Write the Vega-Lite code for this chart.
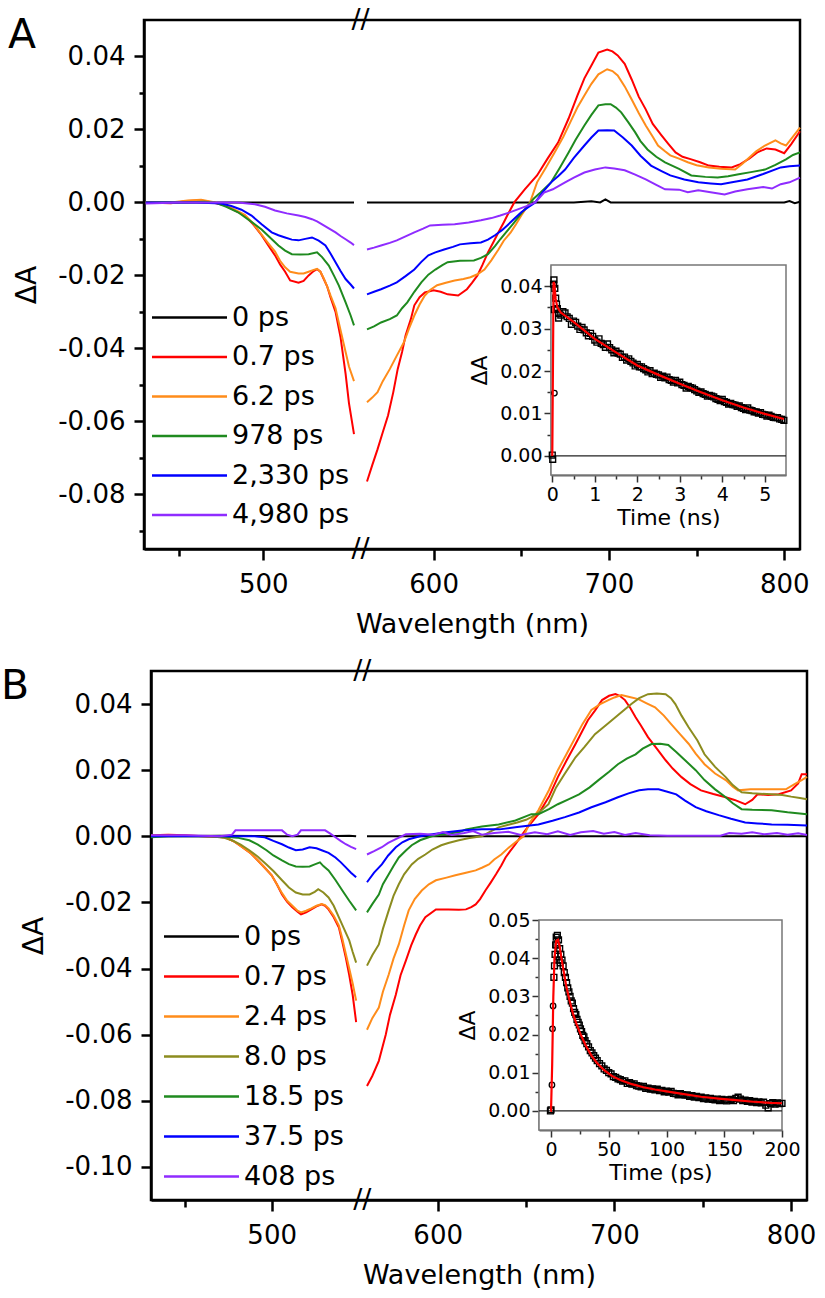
{
"$schema": "https://vega.github.io/schema/vega-lite/v6.json",
"background": "white",
"padding": {"left": 1, "top": 4, "right": 5, "bottom": 5},
"config": {
  "view": {"stroke": "black", "strokeWidth": 2.5},
  "font": "DejaVu Sans",
  "axis": {"grid": false, "domainColor": "black", "domainWidth": 2.5, "tickColor": "black", "tickWidth": 2.5, "labelColor": "black", "titleColor": "black", "labelFont": "DejaVu Sans", "titleFont": "DejaVu Sans", "titleFontWeight": "normal", "labelFlush": false, "labelOverlap": false, "labelBound": false, "zindex": 1},
  "legend": {"symbolType": "M-1,0H9", "symbolSize": 225, "symbolStrokeWidth": 2.5, "labelFont": "DejaVu Sans", "labelFontSize": 27, "labelColor": "black", "labelOffset": 59, "rowPadding": 11.5, "padding": 0, "labelLimit": 0},
  "title": {"font": "DejaVu Sans", "fontSize": 41, "fontWeight": "normal", "color": "black", "anchor": "start", "frame": "group", "align": "left", "baseline": "top", "offset": 0}
},
"datasets": {
"A_main": [
{"series":"0 ps","seg":"L","wl":430,"dA":0},{"series":"0 ps","seg":"L","wl":470,"dA":0},{"series":"0 ps","seg":"L","wl":510,"dA":0},{"series":"0 ps","seg":"L","wl":554,"dA":0},
{"series":"0 ps","seg":"R","wl":562,"dA":0},{"series":"0 ps","seg":"R","wl":600,"dA":0},{"series":"0 ps","seg":"R","wl":640,"dA":0},{"series":"0 ps","seg":"R","wl":680,"dA":0},{"series":"0 ps","seg":"R","wl":690,"dA":0.0003},{"series":"0 ps","seg":"R","wl":695,"dA":0},{"series":"0 ps","seg":"R","wl":698,"dA":0.0008},{"series":"0 ps","seg":"R","wl":701,"dA":0},{"series":"0 ps","seg":"R","wl":740,"dA":0},{"series":"0 ps","seg":"R","wl":780,"dA":0},{"series":"0 ps","seg":"R","wl":800,"dA":0},{"series":"0 ps","seg":"R","wl":803,"dA":0.0004},{"series":"0 ps","seg":"R","wl":806,"dA":-0.0002},{"series":"0 ps","seg":"R","wl":809,"dA":0.0002},
{"series":"0.7 ps","seg":"L","wl":430,"dA":0},{"series":"0.7 ps","seg":"L","wl":445,"dA":-0.0002},{"series":"0.7 ps","seg":"L","wl":455,"dA":0.0004},{"series":"0.7 ps","seg":"L","wl":463,"dA":0.0005},{"series":"0.7 ps","seg":"L","wl":470,"dA":0},{"series":"0.7 ps","seg":"L","wl":477,"dA":-0.0008},{"series":"0.7 ps","seg":"L","wl":483,"dA":-0.0022},{"series":"0.7 ps","seg":"L","wl":489,"dA":-0.0036},{"series":"0.7 ps","seg":"L","wl":494,"dA":-0.006},{"series":"0.7 ps","seg":"L","wl":499,"dA":-0.009},{"series":"0.7 ps","seg":"L","wl":503,"dA":-0.0118},{"series":"0.7 ps","seg":"L","wl":507,"dA":-0.0145},{"series":"0.7 ps","seg":"L","wl":510,"dA":-0.017},{"series":"0.7 ps","seg":"L","wl":513,"dA":-0.019},{"series":"0.7 ps","seg":"L","wl":516,"dA":-0.0214},{"series":"0.7 ps","seg":"L","wl":521,"dA":-0.022},{"series":"0.7 ps","seg":"L","wl":524,"dA":-0.0215},{"series":"0.7 ps","seg":"L","wl":527,"dA":-0.02},{"series":"0.7 ps","seg":"L","wl":530,"dA":-0.0188},{"series":"0.7 ps","seg":"L","wl":532,"dA":-0.0183},{"series":"0.7 ps","seg":"L","wl":534,"dA":-0.019},{"series":"0.7 ps","seg":"L","wl":536,"dA":-0.021},{"series":"0.7 ps","seg":"L","wl":538,"dA":-0.023},{"series":"0.7 ps","seg":"L","wl":540,"dA":-0.026},{"series":"0.7 ps","seg":"L","wl":543,"dA":-0.03},{"series":"0.7 ps","seg":"L","wl":546,"dA":-0.037},{"series":"0.7 ps","seg":"L","wl":549,"dA":-0.047},{"series":"0.7 ps","seg":"L","wl":551,"dA":-0.055},{"series":"0.7 ps","seg":"L","wl":554,"dA":-0.0635},
{"series":"0.7 ps","seg":"R","wl":562,"dA":-0.0765},{"series":"0.7 ps","seg":"R","wl":565,"dA":-0.072},{"series":"0.7 ps","seg":"R","wl":568,"dA":-0.0677},{"series":"0.7 ps","seg":"R","wl":571,"dA":-0.063},{"series":"0.7 ps","seg":"R","wl":574,"dA":-0.0584},{"series":"0.7 ps","seg":"R","wl":577,"dA":-0.052},{"series":"0.7 ps","seg":"R","wl":579.5,"dA":-0.0457},{"series":"0.7 ps","seg":"R","wl":582,"dA":-0.041},{"series":"0.7 ps","seg":"R","wl":584,"dA":-0.0365},{"series":"0.7 ps","seg":"R","wl":587,"dA":-0.032},{"series":"0.7 ps","seg":"R","wl":589,"dA":-0.0282},{"series":"0.7 ps","seg":"R","wl":592,"dA":-0.026},{"series":"0.7 ps","seg":"R","wl":595,"dA":-0.0247},{"series":"0.7 ps","seg":"R","wl":600,"dA":-0.0241},{"series":"0.7 ps","seg":"R","wl":604,"dA":-0.0245},{"series":"0.7 ps","seg":"R","wl":608,"dA":-0.0252},{"series":"0.7 ps","seg":"R","wl":614,"dA":-0.0255},{"series":"0.7 ps","seg":"R","wl":619,"dA":-0.0238},{"series":"0.7 ps","seg":"R","wl":622,"dA":-0.022},{"series":"0.7 ps","seg":"R","wl":625,"dA":-0.02},{"series":"0.7 ps","seg":"R","wl":628,"dA":-0.017},{"series":"0.7 ps","seg":"R","wl":631,"dA":-0.0137},{"series":"0.7 ps","seg":"R","wl":634,"dA":-0.011},{"series":"0.7 ps","seg":"R","wl":637,"dA":-0.0082},{"series":"0.7 ps","seg":"R","wl":640,"dA":-0.0055},{"series":"0.7 ps","seg":"R","wl":642,"dA":-0.0036},{"series":"0.7 ps","seg":"R","wl":646,"dA":0},{"series":"0.7 ps","seg":"R","wl":652,"dA":0.0036},{"series":"0.7 ps","seg":"R","wl":659,"dA":0.0074},{"series":"0.7 ps","seg":"R","wl":665,"dA":0.012},{"series":"0.7 ps","seg":"R","wl":671,"dA":0.0164},{"series":"0.7 ps","seg":"R","wl":677,"dA":0.023},{"series":"0.7 ps","seg":"R","wl":682,"dA":0.0293},{"series":"0.7 ps","seg":"R","wl":686,"dA":0.034},{"series":"0.7 ps","seg":"R","wl":690,"dA":0.0375},{"series":"0.7 ps","seg":"R","wl":694,"dA":0.0411},{"series":"0.7 ps","seg":"R","wl":699,"dA":0.0419},{"series":"0.7 ps","seg":"R","wl":702,"dA":0.0414},{"series":"0.7 ps","seg":"R","wl":705,"dA":0.0403},{"series":"0.7 ps","seg":"R","wl":709,"dA":0.038},{"series":"0.7 ps","seg":"R","wl":713,"dA":0.0337},{"series":"0.7 ps","seg":"R","wl":717,"dA":0.029},{"series":"0.7 ps","seg":"R","wl":721,"dA":0.0255},{"series":"0.7 ps","seg":"R","wl":725,"dA":0.0215},{"series":"0.7 ps","seg":"R","wl":730,"dA":0.0184},{"series":"0.7 ps","seg":"R","wl":734,"dA":0.016},{"series":"0.7 ps","seg":"R","wl":738,"dA":0.0137},{"series":"0.7 ps","seg":"R","wl":742,"dA":0.0125},{"series":"0.7 ps","seg":"R","wl":747,"dA":0.0118},{"series":"0.7 ps","seg":"R","wl":752,"dA":0.011},{"series":"0.7 ps","seg":"R","wl":757,"dA":0.0101},{"series":"0.7 ps","seg":"R","wl":763,"dA":0.0098},{"series":"0.7 ps","seg":"R","wl":770,"dA":0.0096},{"series":"0.7 ps","seg":"R","wl":775,"dA":0.0105},{"series":"0.7 ps","seg":"R","wl":780,"dA":0.012},{"series":"0.7 ps","seg":"R","wl":785,"dA":0.0138},{"series":"0.7 ps","seg":"R","wl":790,"dA":0.0148},{"series":"0.7 ps","seg":"R","wl":795,"dA":0.0145},{"series":"0.7 ps","seg":"R","wl":800,"dA":0.0135},{"series":"0.7 ps","seg":"R","wl":804,"dA":0.016},{"series":"0.7 ps","seg":"R","wl":809,"dA":0.0195},
{"series":"6.2 ps","seg":"L","wl":430,"dA":0},{"series":"6.2 ps","seg":"L","wl":445,"dA":0},{"series":"6.2 ps","seg":"L","wl":455,"dA":0.0005},{"series":"6.2 ps","seg":"L","wl":463,"dA":0.0007},{"series":"6.2 ps","seg":"L","wl":470,"dA":0.0001},{"series":"6.2 ps","seg":"L","wl":477,"dA":-0.0006},{"series":"6.2 ps","seg":"L","wl":483,"dA":-0.002},{"series":"6.2 ps","seg":"L","wl":489,"dA":-0.0034},{"series":"6.2 ps","seg":"L","wl":494,"dA":-0.0058},{"series":"6.2 ps","seg":"L","wl":499,"dA":-0.0088},{"series":"6.2 ps","seg":"L","wl":503,"dA":-0.0112},{"series":"6.2 ps","seg":"L","wl":507,"dA":-0.0135},{"series":"6.2 ps","seg":"L","wl":510,"dA":-0.016},{"series":"6.2 ps","seg":"L","wl":513,"dA":-0.0178},{"series":"6.2 ps","seg":"L","wl":516,"dA":-0.019},{"series":"6.2 ps","seg":"L","wl":521,"dA":-0.0195},{"series":"6.2 ps","seg":"L","wl":524,"dA":-0.0195},{"series":"6.2 ps","seg":"L","wl":527,"dA":-0.019},{"series":"6.2 ps","seg":"L","wl":530,"dA":-0.0185},{"series":"6.2 ps","seg":"L","wl":532,"dA":-0.0182},{"series":"6.2 ps","seg":"L","wl":534,"dA":-0.019},{"series":"6.2 ps","seg":"L","wl":536,"dA":-0.0208},{"series":"6.2 ps","seg":"L","wl":538,"dA":-0.023},{"series":"6.2 ps","seg":"L","wl":540,"dA":-0.0255},{"series":"6.2 ps","seg":"L","wl":543,"dA":-0.029},{"series":"6.2 ps","seg":"L","wl":546,"dA":-0.035},{"series":"6.2 ps","seg":"L","wl":549,"dA":-0.041},{"series":"6.2 ps","seg":"L","wl":551,"dA":-0.045},{"series":"6.2 ps","seg":"L","wl":554,"dA":-0.049},
{"series":"6.2 ps","seg":"R","wl":562,"dA":-0.0548},{"series":"6.2 ps","seg":"R","wl":565,"dA":-0.0535},{"series":"6.2 ps","seg":"R","wl":568,"dA":-0.052},{"series":"6.2 ps","seg":"R","wl":571,"dA":-0.049},{"series":"6.2 ps","seg":"R","wl":575,"dA":-0.0457},{"series":"6.2 ps","seg":"R","wl":579,"dA":-0.042},{"series":"6.2 ps","seg":"R","wl":583,"dA":-0.0384},{"series":"6.2 ps","seg":"R","wl":586,"dA":-0.0345},{"series":"6.2 ps","seg":"R","wl":589,"dA":-0.031},{"series":"6.2 ps","seg":"R","wl":592,"dA":-0.028},{"series":"6.2 ps","seg":"R","wl":595,"dA":-0.0255},{"series":"6.2 ps","seg":"R","wl":598,"dA":-0.024},{"series":"6.2 ps","seg":"R","wl":602,"dA":-0.0227},{"series":"6.2 ps","seg":"R","wl":607,"dA":-0.022},{"series":"6.2 ps","seg":"R","wl":612,"dA":-0.0214},{"series":"6.2 ps","seg":"R","wl":617,"dA":-0.021},{"series":"6.2 ps","seg":"R","wl":621,"dA":-0.0205},{"series":"6.2 ps","seg":"R","wl":625,"dA":-0.0197},{"series":"6.2 ps","seg":"R","wl":629,"dA":-0.0184},{"series":"6.2 ps","seg":"R","wl":633,"dA":-0.0158},{"series":"6.2 ps","seg":"R","wl":637,"dA":-0.0129},{"series":"6.2 ps","seg":"R","wl":640,"dA":-0.0105},{"series":"6.2 ps","seg":"R","wl":644,"dA":-0.0082},{"series":"6.2 ps","seg":"R","wl":647,"dA":-0.006},{"series":"6.2 ps","seg":"R","wl":650,"dA":-0.0036},{"series":"6.2 ps","seg":"R","wl":655,"dA":0},{"series":"6.2 ps","seg":"R","wl":659,"dA":0.0055},{"series":"6.2 ps","seg":"R","wl":664,"dA":0.0095},{"series":"6.2 ps","seg":"R","wl":669,"dA":0.0137},{"series":"6.2 ps","seg":"R","wl":674,"dA":0.018},{"series":"6.2 ps","seg":"R","wl":678,"dA":0.022},{"series":"6.2 ps","seg":"R","wl":682,"dA":0.026},{"series":"6.2 ps","seg":"R","wl":686,"dA":0.0293},{"series":"6.2 ps","seg":"R","wl":690,"dA":0.0325},{"series":"6.2 ps","seg":"R","wl":694,"dA":0.0351},{"series":"6.2 ps","seg":"R","wl":699,"dA":0.0365},{"series":"6.2 ps","seg":"R","wl":702,"dA":0.036},{"series":"6.2 ps","seg":"R","wl":705,"dA":0.0348},{"series":"6.2 ps","seg":"R","wl":709,"dA":0.0318},{"series":"6.2 ps","seg":"R","wl":713,"dA":0.0282},{"series":"6.2 ps","seg":"R","wl":717,"dA":0.0245},{"series":"6.2 ps","seg":"R","wl":721,"dA":0.0211},{"series":"6.2 ps","seg":"R","wl":725,"dA":0.018},{"series":"6.2 ps","seg":"R","wl":728,"dA":0.0156},{"series":"6.2 ps","seg":"R","wl":732,"dA":0.014},{"series":"6.2 ps","seg":"R","wl":735,"dA":0.0129},{"series":"6.2 ps","seg":"R","wl":740,"dA":0.012},{"series":"6.2 ps","seg":"R","wl":745,"dA":0.011},{"series":"6.2 ps","seg":"R","wl":750,"dA":0.0102},{"series":"6.2 ps","seg":"R","wl":757,"dA":0.0096},{"series":"6.2 ps","seg":"R","wl":764,"dA":0.0092},{"series":"6.2 ps","seg":"R","wl":772,"dA":0.009},{"series":"6.2 ps","seg":"R","wl":776,"dA":0.0105},{"series":"6.2 ps","seg":"R","wl":779,"dA":0.0118},{"series":"6.2 ps","seg":"R","wl":784,"dA":0.014},{"series":"6.2 ps","seg":"R","wl":789,"dA":0.0156},{"series":"6.2 ps","seg":"R","wl":795,"dA":0.017},{"series":"6.2 ps","seg":"R","wl":798,"dA":0.0162},{"series":"6.2 ps","seg":"R","wl":801,"dA":0.0156},{"series":"6.2 ps","seg":"R","wl":805,"dA":0.018},{"series":"6.2 ps","seg":"R","wl":809,"dA":0.0205},
{"series":"978 ps","seg":"L","wl":430,"dA":0},{"series":"978 ps","seg":"L","wl":450,"dA":0},{"series":"978 ps","seg":"L","wl":465,"dA":0.0002},{"series":"978 ps","seg":"L","wl":471,"dA":0},{"series":"978 ps","seg":"L","wl":478,"dA":-0.0012},{"series":"978 ps","seg":"L","wl":485,"dA":-0.0027},{"series":"978 ps","seg":"L","wl":492,"dA":-0.005},{"series":"978 ps","seg":"L","wl":499,"dA":-0.0074},{"series":"978 ps","seg":"L","wl":504,"dA":-0.0096},{"series":"978 ps","seg":"L","wl":509,"dA":-0.0118},{"series":"978 ps","seg":"L","wl":513,"dA":-0.0132},{"series":"978 ps","seg":"L","wl":517,"dA":-0.0142},{"series":"978 ps","seg":"L","wl":522,"dA":-0.0143},{"series":"978 ps","seg":"L","wl":527,"dA":-0.0142},{"series":"978 ps","seg":"L","wl":532,"dA":-0.0137},{"series":"978 ps","seg":"L","wl":535,"dA":-0.015},{"series":"978 ps","seg":"L","wl":539,"dA":-0.0173},{"series":"978 ps","seg":"L","wl":542,"dA":-0.02},{"series":"978 ps","seg":"L","wl":545,"dA":-0.0228},{"series":"978 ps","seg":"L","wl":549,"dA":-0.0274},{"series":"978 ps","seg":"L","wl":552,"dA":-0.031},{"series":"978 ps","seg":"L","wl":554,"dA":-0.0337},
{"series":"978 ps","seg":"R","wl":562,"dA":-0.0348},{"series":"978 ps","seg":"R","wl":566,"dA":-0.034},{"series":"978 ps","seg":"R","wl":570,"dA":-0.0329},{"series":"978 ps","seg":"R","wl":575,"dA":-0.032},{"series":"978 ps","seg":"R","wl":579,"dA":-0.031},{"series":"978 ps","seg":"R","wl":582,"dA":-0.029},{"series":"978 ps","seg":"R","wl":585,"dA":-0.0274},{"series":"978 ps","seg":"R","wl":589,"dA":-0.0245},{"series":"978 ps","seg":"R","wl":593,"dA":-0.0219},{"series":"978 ps","seg":"R","wl":597,"dA":-0.0198},{"series":"978 ps","seg":"R","wl":601,"dA":-0.0184},{"series":"978 ps","seg":"R","wl":605,"dA":-0.0172},{"series":"978 ps","seg":"R","wl":608,"dA":-0.0164},{"series":"978 ps","seg":"R","wl":615,"dA":-0.016},{"series":"978 ps","seg":"R","wl":623,"dA":-0.0159},{"series":"978 ps","seg":"R","wl":627,"dA":-0.0152},{"series":"978 ps","seg":"R","wl":631,"dA":-0.0142},{"series":"978 ps","seg":"R","wl":635,"dA":-0.012},{"series":"978 ps","seg":"R","wl":638,"dA":-0.0101},{"series":"978 ps","seg":"R","wl":642,"dA":-0.0078},{"series":"978 ps","seg":"R","wl":646,"dA":-0.0055},{"series":"978 ps","seg":"R","wl":650,"dA":-0.003},{"series":"978 ps","seg":"R","wl":654,"dA":-0.0008},{"series":"978 ps","seg":"R","wl":657,"dA":0.001},{"series":"978 ps","seg":"R","wl":661,"dA":0.0027},{"series":"978 ps","seg":"R","wl":667,"dA":0.0055},{"series":"978 ps","seg":"R","wl":672,"dA":0.0095},{"series":"978 ps","seg":"R","wl":677,"dA":0.0137},{"series":"978 ps","seg":"R","wl":681,"dA":0.0172},{"series":"978 ps","seg":"R","wl":686,"dA":0.0211},{"series":"978 ps","seg":"R","wl":690,"dA":0.024},{"series":"978 ps","seg":"R","wl":694,"dA":0.0266},{"series":"978 ps","seg":"R","wl":698,"dA":0.0269},{"series":"978 ps","seg":"R","wl":701,"dA":0.0269},{"series":"978 ps","seg":"R","wl":704,"dA":0.026},{"series":"978 ps","seg":"R","wl":707,"dA":0.0247},{"series":"978 ps","seg":"R","wl":711,"dA":0.022},{"series":"978 ps","seg":"R","wl":715,"dA":0.0192},{"series":"978 ps","seg":"R","wl":718,"dA":0.0168},{"series":"978 ps","seg":"R","wl":722,"dA":0.0145},{"series":"978 ps","seg":"R","wl":727,"dA":0.0125},{"series":"978 ps","seg":"R","wl":732,"dA":0.011},{"series":"978 ps","seg":"R","wl":740,"dA":0.0092},{"series":"978 ps","seg":"R","wl":747,"dA":0.0074},{"series":"978 ps","seg":"R","wl":755,"dA":0.007},{"series":"978 ps","seg":"R","wl":762,"dA":0.0068},{"series":"978 ps","seg":"R","wl":768,"dA":0.0072},{"series":"978 ps","seg":"R","wl":774,"dA":0.0077},{"series":"978 ps","seg":"R","wl":781,"dA":0.0083},{"series":"978 ps","seg":"R","wl":789,"dA":0.009},{"series":"978 ps","seg":"R","wl":795,"dA":0.0103},{"series":"978 ps","seg":"R","wl":801,"dA":0.0118},{"series":"978 ps","seg":"R","wl":805,"dA":0.013},{"series":"978 ps","seg":"R","wl":809,"dA":0.0137},
{"series":"2,330 ps","seg":"L","wl":430,"dA":0},{"series":"2,330 ps","seg":"L","wl":460,"dA":0},{"series":"2,330 ps","seg":"L","wl":475,"dA":-0.0003},{"series":"2,330 ps","seg":"L","wl":481,"dA":-0.001},{"series":"2,330 ps","seg":"L","wl":487,"dA":-0.002},{"series":"2,330 ps","seg":"L","wl":493,"dA":-0.0036},{"series":"2,330 ps","seg":"L","wl":499,"dA":-0.006},{"series":"2,330 ps","seg":"L","wl":505,"dA":-0.0082},{"series":"2,330 ps","seg":"L","wl":509,"dA":-0.009},{"series":"2,330 ps","seg":"L","wl":513,"dA":-0.0096},{"series":"2,330 ps","seg":"L","wl":517,"dA":-0.0102},{"series":"2,330 ps","seg":"L","wl":521,"dA":-0.0104},{"series":"2,330 ps","seg":"L","wl":525,"dA":-0.01},{"series":"2,330 ps","seg":"L","wl":529,"dA":-0.0096},{"series":"2,330 ps","seg":"L","wl":533,"dA":-0.0105},{"series":"2,330 ps","seg":"L","wl":537,"dA":-0.0118},{"series":"2,330 ps","seg":"L","wl":540,"dA":-0.014},{"series":"2,330 ps","seg":"L","wl":543,"dA":-0.0164},{"series":"2,330 ps","seg":"L","wl":546,"dA":-0.0188},{"series":"2,330 ps","seg":"L","wl":549,"dA":-0.021},{"series":"2,330 ps","seg":"L","wl":552,"dA":-0.0225},{"series":"2,330 ps","seg":"L","wl":554,"dA":-0.0236},
{"series":"2,330 ps","seg":"R","wl":562,"dA":-0.0252},{"series":"2,330 ps","seg":"R","wl":566,"dA":-0.0245},{"series":"2,330 ps","seg":"R","wl":570,"dA":-0.0238},{"series":"2,330 ps","seg":"R","wl":575,"dA":-0.0228},{"series":"2,330 ps","seg":"R","wl":579,"dA":-0.0219},{"series":"2,330 ps","seg":"R","wl":584,"dA":-0.0202},{"series":"2,330 ps","seg":"R","wl":589,"dA":-0.0184},{"series":"2,330 ps","seg":"R","wl":593,"dA":-0.0163},{"series":"2,330 ps","seg":"R","wl":597,"dA":-0.0145},{"series":"2,330 ps","seg":"R","wl":601,"dA":-0.0137},{"series":"2,330 ps","seg":"R","wl":606,"dA":-0.0129},{"series":"2,330 ps","seg":"R","wl":611,"dA":-0.0122},{"series":"2,330 ps","seg":"R","wl":615,"dA":-0.0115},{"series":"2,330 ps","seg":"R","wl":621,"dA":-0.0112},{"series":"2,330 ps","seg":"R","wl":627,"dA":-0.011},{"series":"2,330 ps","seg":"R","wl":631,"dA":-0.0102},{"series":"2,330 ps","seg":"R","wl":635,"dA":-0.009},{"series":"2,330 ps","seg":"R","wl":639,"dA":-0.0076},{"series":"2,330 ps","seg":"R","wl":642,"dA":-0.0063},{"series":"2,330 ps","seg":"R","wl":646,"dA":-0.0045},{"series":"2,330 ps","seg":"R","wl":650,"dA":-0.0027},{"series":"2,330 ps","seg":"R","wl":654,"dA":-0.0013},{"series":"2,330 ps","seg":"R","wl":658,"dA":0},{"series":"2,330 ps","seg":"R","wl":662,"dA":0.0027},{"series":"2,330 ps","seg":"R","wl":667,"dA":0.0055},{"series":"2,330 ps","seg":"R","wl":671,"dA":0.0072},{"series":"2,330 ps","seg":"R","wl":675,"dA":0.009},{"series":"2,330 ps","seg":"R","wl":680,"dA":0.0122},{"series":"2,330 ps","seg":"R","wl":686,"dA":0.0156},{"series":"2,330 ps","seg":"R","wl":690,"dA":0.0178},{"series":"2,330 ps","seg":"R","wl":694,"dA":0.0197},{"series":"2,330 ps","seg":"R","wl":699,"dA":0.0198},{"series":"2,330 ps","seg":"R","wl":703,"dA":0.0197},{"series":"2,330 ps","seg":"R","wl":708,"dA":0.0178},{"series":"2,330 ps","seg":"R","wl":713,"dA":0.0156},{"series":"2,330 ps","seg":"R","wl":718,"dA":0.0128},{"series":"2,330 ps","seg":"R","wl":724,"dA":0.0101},{"series":"2,330 ps","seg":"R","wl":730,"dA":0.0086},{"series":"2,330 ps","seg":"R","wl":735,"dA":0.0074},{"series":"2,330 ps","seg":"R","wl":743,"dA":0.0063},{"series":"2,330 ps","seg":"R","wl":751,"dA":0.0055},{"series":"2,330 ps","seg":"R","wl":758,"dA":0.0052},{"series":"2,330 ps","seg":"R","wl":764,"dA":0.005},{"series":"2,330 ps","seg":"R","wl":771,"dA":0.0056},{"series":"2,330 ps","seg":"R","wl":779,"dA":0.0063},{"series":"2,330 ps","seg":"R","wl":788,"dA":0.0078},{"series":"2,330 ps","seg":"R","wl":798,"dA":0.0096},{"series":"2,330 ps","seg":"R","wl":803,"dA":0.0099},{"series":"2,330 ps","seg":"R","wl":809,"dA":0.0101},
{"series":"4,980 ps","seg":"L","wl":430,"dA":-0.0003},{"series":"4,980 ps","seg":"L","wl":450,"dA":0},{"series":"4,980 ps","seg":"L","wl":470,"dA":0},{"series":"4,980 ps","seg":"L","wl":485,"dA":0},{"series":"4,980 ps","seg":"L","wl":495,"dA":-0.0005},{"series":"4,980 ps","seg":"L","wl":501,"dA":-0.0012},{"series":"4,980 ps","seg":"L","wl":507,"dA":-0.0022},{"series":"4,980 ps","seg":"L","wl":514,"dA":-0.003},{"series":"4,980 ps","seg":"L","wl":521,"dA":-0.0036},{"series":"4,980 ps","seg":"L","wl":525,"dA":-0.004},{"series":"4,980 ps","seg":"L","wl":529,"dA":-0.0046},{"series":"4,980 ps","seg":"L","wl":532,"dA":-0.0052},{"series":"4,980 ps","seg":"L","wl":535,"dA":-0.006},{"series":"4,980 ps","seg":"L","wl":539,"dA":-0.0071},{"series":"4,980 ps","seg":"L","wl":543,"dA":-0.0082},{"series":"4,980 ps","seg":"L","wl":546,"dA":-0.0092},{"series":"4,980 ps","seg":"L","wl":549,"dA":-0.0101},{"series":"4,980 ps","seg":"L","wl":552,"dA":-0.011},{"series":"4,980 ps","seg":"L","wl":554,"dA":-0.0117},
{"series":"4,980 ps","seg":"R","wl":562,"dA":-0.0129},{"series":"4,980 ps","seg":"R","wl":566,"dA":-0.0124},{"series":"4,980 ps","seg":"R","wl":570,"dA":-0.0118},{"series":"4,980 ps","seg":"R","wl":575,"dA":-0.0111},{"series":"4,980 ps","seg":"R","wl":579,"dA":-0.0104},{"series":"4,980 ps","seg":"R","wl":584,"dA":-0.0093},{"series":"4,980 ps","seg":"R","wl":589,"dA":-0.0082},{"series":"4,980 ps","seg":"R","wl":594,"dA":-0.0072},{"series":"4,980 ps","seg":"R","wl":598,"dA":-0.0063},{"series":"4,980 ps","seg":"R","wl":605,"dA":-0.0061},{"series":"4,980 ps","seg":"R","wl":612,"dA":-0.006},{"series":"4,980 ps","seg":"R","wl":620,"dA":-0.0055},{"series":"4,980 ps","seg":"R","wl":627,"dA":-0.0049},{"series":"4,980 ps","seg":"R","wl":633,"dA":-0.0043},{"series":"4,980 ps","seg":"R","wl":638,"dA":-0.0036},{"series":"4,980 ps","seg":"R","wl":643,"dA":-0.0028},{"series":"4,980 ps","seg":"R","wl":648,"dA":-0.0019},{"series":"4,980 ps","seg":"R","wl":653,"dA":-0.001},{"series":"4,980 ps","seg":"R","wl":658,"dA":0},{"series":"4,980 ps","seg":"R","wl":663,"dA":0.0027},{"series":"4,980 ps","seg":"R","wl":668,"dA":0.0036},{"series":"4,980 ps","seg":"R","wl":675,"dA":0.0055},{"series":"4,980 ps","seg":"R","wl":680,"dA":0.0068},{"series":"4,980 ps","seg":"R","wl":686,"dA":0.0082},{"series":"4,980 ps","seg":"R","wl":692,"dA":0.009},{"series":"4,980 ps","seg":"R","wl":698,"dA":0.0096},{"series":"4,980 ps","seg":"R","wl":703,"dA":0.0093},{"series":"4,980 ps","seg":"R","wl":709,"dA":0.0088},{"series":"4,980 ps","seg":"R","wl":715,"dA":0.0076},{"series":"4,980 ps","seg":"R","wl":721,"dA":0.0063},{"series":"4,980 ps","seg":"R","wl":727,"dA":0.0048},{"series":"4,980 ps","seg":"R","wl":732,"dA":0.0036},{"series":"4,980 ps","seg":"R","wl":740,"dA":0.0035},{"series":"4,980 ps","seg":"R","wl":745,"dA":0.0028},{"series":"4,980 ps","seg":"R","wl":751,"dA":0.0033},{"series":"4,980 ps","seg":"R","wl":758,"dA":0.0028},{"series":"4,980 ps","seg":"R","wl":766,"dA":0.0022},{"series":"4,980 ps","seg":"R","wl":772,"dA":0.003},{"series":"4,980 ps","seg":"R","wl":779,"dA":0.0036},{"series":"4,980 ps","seg":"R","wl":788,"dA":0.0042},{"series":"4,980 ps","seg":"R","wl":793,"dA":0.0038},{"series":"4,980 ps","seg":"R","wl":798,"dA":0.005},{"series":"4,980 ps","seg":"R","wl":803,"dA":0.0055},{"series":"4,980 ps","seg":"R","wl":809,"dA":0.0068}
],
"B_main": [
{"series":"0 ps","seg":"L","wl":430,"dA":0},{"series":"0 ps","seg":"L","wl":470,"dA":0.0002},{"series":"0 ps","seg":"L","wl":500,"dA":0},{"series":"0 ps","seg":"L","wl":530,"dA":0},{"series":"0 ps","seg":"L","wl":545,"dA":0.0002},{"series":"0 ps","seg":"L","wl":549,"dA":0},
{"series":"0 ps","seg":"R","wl":560,"dA":0},{"series":"0 ps","seg":"R","wl":600,"dA":0},{"series":"0 ps","seg":"R","wl":650,"dA":0},{"series":"0 ps","seg":"R","wl":700,"dA":0},{"series":"0 ps","seg":"R","wl":750,"dA":0},{"series":"0 ps","seg":"R","wl":809,"dA":0},
{"series":"0.7 ps","seg":"L","wl":430,"dA":0.0003},{"series":"0.7 ps","seg":"L","wl":440,"dA":0.0005},{"series":"0.7 ps","seg":"L","wl":450,"dA":0.0003},{"series":"0.7 ps","seg":"L","wl":460,"dA":0},{"series":"0.7 ps","seg":"L","wl":473,"dA":-0.0003},{"series":"0.7 ps","seg":"L","wl":478,"dA":-0.0015},{"series":"0.7 ps","seg":"L","wl":483,"dA":-0.0033},{"series":"0.7 ps","seg":"L","wl":488,"dA":-0.0052},{"series":"0.7 ps","seg":"L","wl":492,"dA":-0.0073},{"series":"0.7 ps","seg":"L","wl":496,"dA":-0.0095},{"series":"0.7 ps","seg":"L","wl":500,"dA":-0.0118},{"series":"0.7 ps","seg":"L","wl":503,"dA":-0.0145},{"series":"0.7 ps","seg":"L","wl":506,"dA":-0.0176},{"series":"0.7 ps","seg":"L","wl":509,"dA":-0.0198},{"series":"0.7 ps","seg":"L","wl":512,"dA":-0.0215},{"series":"0.7 ps","seg":"L","wl":515,"dA":-0.0228},{"series":"0.7 ps","seg":"L","wl":517,"dA":-0.0236},{"series":"0.7 ps","seg":"L","wl":520,"dA":-0.023},{"series":"0.7 ps","seg":"L","wl":523,"dA":-0.0221},{"series":"0.7 ps","seg":"L","wl":526,"dA":-0.0212},{"series":"0.7 ps","seg":"L","wl":529,"dA":-0.0206},{"series":"0.7 ps","seg":"L","wl":531,"dA":-0.021},{"series":"0.7 ps","seg":"L","wl":533,"dA":-0.0221},{"series":"0.7 ps","seg":"L","wl":536,"dA":-0.0245},{"series":"0.7 ps","seg":"L","wl":539,"dA":-0.0276},{"series":"0.7 ps","seg":"L","wl":541,"dA":-0.032},{"series":"0.7 ps","seg":"L","wl":543,"dA":-0.0367},{"series":"0.7 ps","seg":"L","wl":545,"dA":-0.042},{"series":"0.7 ps","seg":"L","wl":547,"dA":-0.048},{"series":"0.7 ps","seg":"L","wl":549,"dA":-0.0562},
{"series":"0.7 ps","seg":"R","wl":560,"dA":-0.0755},{"series":"0.7 ps","seg":"R","wl":563,"dA":-0.0725},{"series":"0.7 ps","seg":"R","wl":566.7,"dA":-0.0679},{"series":"0.7 ps","seg":"R","wl":570.6,"dA":-0.06},{"series":"0.7 ps","seg":"R","wl":573,"dA":-0.054},{"series":"0.7 ps","seg":"R","wl":576.3,"dA":-0.0479},{"series":"0.7 ps","seg":"R","wl":579,"dA":-0.042},{"series":"0.7 ps","seg":"R","wl":582,"dA":-0.0376},{"series":"0.7 ps","seg":"R","wl":585,"dA":-0.033},{"series":"0.7 ps","seg":"R","wl":587.6,"dA":-0.0297},{"series":"0.7 ps","seg":"R","wl":590,"dA":-0.027},{"series":"0.7 ps","seg":"R","wl":593,"dA":-0.0245},{"series":"0.7 ps","seg":"R","wl":599,"dA":-0.0221},{"series":"0.7 ps","seg":"R","wl":606,"dA":-0.0221},{"series":"0.7 ps","seg":"R","wl":612,"dA":-0.0222},{"series":"0.7 ps","seg":"R","wl":616,"dA":-0.0221},{"series":"0.7 ps","seg":"R","wl":619,"dA":-0.0214},{"series":"0.7 ps","seg":"R","wl":621.5,"dA":-0.0206},{"series":"0.7 ps","seg":"R","wl":624,"dA":-0.019},{"series":"0.7 ps","seg":"R","wl":627,"dA":-0.0164},{"series":"0.7 ps","seg":"R","wl":630,"dA":-0.014},{"series":"0.7 ps","seg":"R","wl":633,"dA":-0.0115},{"series":"0.7 ps","seg":"R","wl":636,"dA":-0.0088},{"series":"0.7 ps","seg":"R","wl":638.4,"dA":-0.0064},{"series":"0.7 ps","seg":"R","wl":641,"dA":-0.0045},{"series":"0.7 ps","seg":"R","wl":644,"dA":-0.0024},{"series":"0.7 ps","seg":"R","wl":647.5,"dA":0.0003},{"series":"0.7 ps","seg":"R","wl":652,"dA":0.0035},{"series":"0.7 ps","seg":"R","wl":657,"dA":0.0067},{"series":"0.7 ps","seg":"R","wl":663,"dA":0.012},{"series":"0.7 ps","seg":"R","wl":668,"dA":0.0179},{"series":"0.7 ps","seg":"R","wl":673,"dA":0.023},{"series":"0.7 ps","seg":"R","wl":678,"dA":0.0279},{"series":"0.7 ps","seg":"R","wl":682,"dA":0.032},{"series":"0.7 ps","seg":"R","wl":685,"dA":0.0351},{"series":"0.7 ps","seg":"R","wl":689,"dA":0.038},{"series":"0.7 ps","seg":"R","wl":693,"dA":0.0412},{"series":"0.7 ps","seg":"R","wl":697,"dA":0.0425},{"series":"0.7 ps","seg":"R","wl":700.6,"dA":0.043},{"series":"0.7 ps","seg":"R","wl":703,"dA":0.0425},{"series":"0.7 ps","seg":"R","wl":706,"dA":0.0412},{"series":"0.7 ps","seg":"R","wl":709,"dA":0.0388},{"series":"0.7 ps","seg":"R","wl":712,"dA":0.036},{"series":"0.7 ps","seg":"R","wl":715,"dA":0.0335},{"series":"0.7 ps","seg":"R","wl":719,"dA":0.03},{"series":"0.7 ps","seg":"R","wl":724,"dA":0.0265},{"series":"0.7 ps","seg":"R","wl":729,"dA":0.023},{"series":"0.7 ps","seg":"R","wl":733,"dA":0.0205},{"series":"0.7 ps","seg":"R","wl":738,"dA":0.0179},{"series":"0.7 ps","seg":"R","wl":743,"dA":0.0158},{"series":"0.7 ps","seg":"R","wl":749,"dA":0.0139},{"series":"0.7 ps","seg":"R","wl":756,"dA":0.0128},{"series":"0.7 ps","seg":"R","wl":763,"dA":0.0118},{"series":"0.7 ps","seg":"R","wl":768,"dA":0.011},{"series":"0.7 ps","seg":"R","wl":774,"dA":0.0097},{"series":"0.7 ps","seg":"R","wl":778,"dA":0.011},{"series":"0.7 ps","seg":"R","wl":781,"dA":0.0127},{"series":"0.7 ps","seg":"R","wl":787,"dA":0.0125},{"series":"0.7 ps","seg":"R","wl":793,"dA":0.0127},{"series":"0.7 ps","seg":"R","wl":800,"dA":0.0139},{"series":"0.7 ps","seg":"R","wl":804,"dA":0.016},{"series":"0.7 ps","seg":"R","wl":806,"dA":0.0188},{"series":"0.7 ps","seg":"R","wl":809,"dA":0.0188},
{"series":"2.4 ps","seg":"L","wl":430,"dA":0.0002},{"series":"2.4 ps","seg":"L","wl":460,"dA":0},{"series":"2.4 ps","seg":"L","wl":473,"dA":-0.0003},{"series":"2.4 ps","seg":"L","wl":478,"dA":-0.0015},{"series":"2.4 ps","seg":"L","wl":483,"dA":-0.0033},{"series":"2.4 ps","seg":"L","wl":488,"dA":-0.0052},{"series":"2.4 ps","seg":"L","wl":492,"dA":-0.0073},{"series":"2.4 ps","seg":"L","wl":496,"dA":-0.0095},{"series":"2.4 ps","seg":"L","wl":500,"dA":-0.0118},{"series":"2.4 ps","seg":"L","wl":503,"dA":-0.0145},{"series":"2.4 ps","seg":"L","wl":506,"dA":-0.0172},{"series":"2.4 ps","seg":"L","wl":509,"dA":-0.0195},{"series":"2.4 ps","seg":"L","wl":512,"dA":-0.021},{"series":"2.4 ps","seg":"L","wl":515,"dA":-0.0225},{"series":"2.4 ps","seg":"L","wl":517,"dA":-0.023},{"series":"2.4 ps","seg":"L","wl":520,"dA":-0.0225},{"series":"2.4 ps","seg":"L","wl":523,"dA":-0.0218},{"series":"2.4 ps","seg":"L","wl":526,"dA":-0.021},{"series":"2.4 ps","seg":"L","wl":529,"dA":-0.0205},{"series":"2.4 ps","seg":"L","wl":531,"dA":-0.0208},{"series":"2.4 ps","seg":"L","wl":533,"dA":-0.0218},{"series":"2.4 ps","seg":"L","wl":536,"dA":-0.024},{"series":"2.4 ps","seg":"L","wl":539,"dA":-0.027},{"series":"2.4 ps","seg":"L","wl":541,"dA":-0.031},{"series":"2.4 ps","seg":"L","wl":543,"dA":-0.0355},{"series":"2.4 ps","seg":"L","wl":545,"dA":-0.04},{"series":"2.4 ps","seg":"L","wl":547,"dA":-0.0445},{"series":"2.4 ps","seg":"L","wl":549,"dA":-0.0497},
{"series":"2.4 ps","seg":"R","wl":560,"dA":-0.0585},{"series":"2.4 ps","seg":"R","wl":563,"dA":-0.055},{"series":"2.4 ps","seg":"R","wl":566.7,"dA":-0.0518},{"series":"2.4 ps","seg":"R","wl":569,"dA":-0.047},{"series":"2.4 ps","seg":"R","wl":572.3,"dA":-0.0418},{"series":"2.4 ps","seg":"R","wl":575,"dA":-0.037},{"series":"2.4 ps","seg":"R","wl":578,"dA":-0.0327},{"series":"2.4 ps","seg":"R","wl":581,"dA":-0.027},{"series":"2.4 ps","seg":"R","wl":583.6,"dA":-0.0224},{"series":"2.4 ps","seg":"R","wl":587,"dA":-0.019},{"series":"2.4 ps","seg":"R","wl":591,"dA":-0.0164},{"series":"2.4 ps","seg":"R","wl":595,"dA":-0.0145},{"series":"2.4 ps","seg":"R","wl":599,"dA":-0.0133},{"series":"2.4 ps","seg":"R","wl":605,"dA":-0.0125},{"series":"2.4 ps","seg":"R","wl":610,"dA":-0.0118},{"series":"2.4 ps","seg":"R","wl":616,"dA":-0.011},{"series":"2.4 ps","seg":"R","wl":621.5,"dA":-0.0103},{"series":"2.4 ps","seg":"R","wl":625,"dA":-0.0095},{"series":"2.4 ps","seg":"R","wl":629,"dA":-0.0085},{"series":"2.4 ps","seg":"R","wl":632,"dA":-0.007},{"series":"2.4 ps","seg":"R","wl":636,"dA":-0.0055},{"series":"2.4 ps","seg":"R","wl":640,"dA":-0.0035},{"series":"2.4 ps","seg":"R","wl":644,"dA":-0.0018},{"series":"2.4 ps","seg":"R","wl":648.6,"dA":0},{"series":"2.4 ps","seg":"R","wl":652,"dA":0.004},{"series":"2.4 ps","seg":"R","wl":657,"dA":0.0079},{"series":"2.4 ps","seg":"R","wl":663,"dA":0.014},{"series":"2.4 ps","seg":"R","wl":668,"dA":0.02},{"series":"2.4 ps","seg":"R","wl":673,"dA":0.025},{"series":"2.4 ps","seg":"R","wl":678,"dA":0.03},{"series":"2.4 ps","seg":"R","wl":682,"dA":0.034},{"series":"2.4 ps","seg":"R","wl":687,"dA":0.0382},{"series":"2.4 ps","seg":"R","wl":692,"dA":0.04},{"series":"2.4 ps","seg":"R","wl":696.6,"dA":0.0412},{"series":"2.4 ps","seg":"R","wl":700,"dA":0.042},{"series":"2.4 ps","seg":"R","wl":704,"dA":0.0427},{"series":"2.4 ps","seg":"R","wl":708,"dA":0.0422},{"series":"2.4 ps","seg":"R","wl":713.6,"dA":0.0415},{"series":"2.4 ps","seg":"R","wl":718,"dA":0.0403},{"series":"2.4 ps","seg":"R","wl":723,"dA":0.039},{"series":"2.4 ps","seg":"R","wl":728,"dA":0.0365},{"series":"2.4 ps","seg":"R","wl":732,"dA":0.034},{"series":"2.4 ps","seg":"R","wl":737,"dA":0.031},{"series":"2.4 ps","seg":"R","wl":742,"dA":0.028},{"series":"2.4 ps","seg":"R","wl":746,"dA":0.025},{"series":"2.4 ps","seg":"R","wl":751,"dA":0.0218},{"series":"2.4 ps","seg":"R","wl":757,"dA":0.019},{"series":"2.4 ps","seg":"R","wl":763,"dA":0.017},{"series":"2.4 ps","seg":"R","wl":767,"dA":0.015},{"series":"2.4 ps","seg":"R","wl":770,"dA":0.0139},{"series":"2.4 ps","seg":"R","wl":777,"dA":0.0142},{"series":"2.4 ps","seg":"R","wl":785,"dA":0.0142},{"series":"2.4 ps","seg":"R","wl":792,"dA":0.0142},{"series":"2.4 ps","seg":"R","wl":797,"dA":0.0142},{"series":"2.4 ps","seg":"R","wl":802,"dA":0.0158},{"series":"2.4 ps","seg":"R","wl":806,"dA":0.017},{"series":"2.4 ps","seg":"R","wl":809,"dA":0.018},
{"series":"8.0 ps","seg":"L","wl":430,"dA":0},{"series":"8.0 ps","seg":"L","wl":465,"dA":0},{"series":"8.0 ps","seg":"L","wl":472,"dA":-0.0004},{"series":"8.0 ps","seg":"L","wl":477,"dA":-0.0012},{"series":"8.0 ps","seg":"L","wl":482,"dA":-0.0025},{"series":"8.0 ps","seg":"L","wl":487,"dA":-0.0042},{"series":"8.0 ps","seg":"L","wl":492,"dA":-0.0062},{"series":"8.0 ps","seg":"L","wl":497,"dA":-0.0085},{"series":"8.0 ps","seg":"L","wl":501,"dA":-0.0105},{"series":"8.0 ps","seg":"L","wl":506,"dA":-0.0133},{"series":"8.0 ps","seg":"L","wl":510,"dA":-0.0155},{"series":"8.0 ps","seg":"L","wl":514,"dA":-0.017},{"series":"8.0 ps","seg":"L","wl":518,"dA":-0.0176},{"series":"8.0 ps","seg":"L","wl":522,"dA":-0.0176},{"series":"8.0 ps","seg":"L","wl":525,"dA":-0.0168},{"series":"8.0 ps","seg":"L","wl":527,"dA":-0.016},{"series":"8.0 ps","seg":"L","wl":530,"dA":-0.017},{"series":"8.0 ps","seg":"L","wl":533,"dA":-0.0185},{"series":"8.0 ps","seg":"L","wl":536,"dA":-0.021},{"series":"8.0 ps","seg":"L","wl":539,"dA":-0.0245},{"series":"8.0 ps","seg":"L","wl":542,"dA":-0.028},{"series":"8.0 ps","seg":"L","wl":545,"dA":-0.0315},{"series":"8.0 ps","seg":"L","wl":547,"dA":-0.035},{"series":"8.0 ps","seg":"L","wl":549,"dA":-0.0382},
{"series":"8.0 ps","seg":"R","wl":560,"dA":-0.0391},{"series":"8.0 ps","seg":"R","wl":563,"dA":-0.036},{"series":"8.0 ps","seg":"R","wl":566.7,"dA":-0.0327},{"series":"8.0 ps","seg":"R","wl":569,"dA":-0.028},{"series":"8.0 ps","seg":"R","wl":572.3,"dA":-0.0224},{"series":"8.0 ps","seg":"R","wl":575,"dA":-0.018},{"series":"8.0 ps","seg":"R","wl":578,"dA":-0.0145},{"series":"8.0 ps","seg":"R","wl":581,"dA":-0.0115},{"series":"8.0 ps","seg":"R","wl":585.3,"dA":-0.0085},{"series":"8.0 ps","seg":"R","wl":589,"dA":-0.0068},{"series":"8.0 ps","seg":"R","wl":593,"dA":-0.0055},{"series":"8.0 ps","seg":"R","wl":597,"dA":-0.004},{"series":"8.0 ps","seg":"R","wl":602,"dA":-0.0027},{"series":"8.0 ps","seg":"R","wl":606,"dA":-0.002},{"series":"8.0 ps","seg":"R","wl":612,"dA":-0.0012},{"series":"8.0 ps","seg":"R","wl":618,"dA":-0.0005},{"series":"8.0 ps","seg":"R","wl":625,"dA":0},{"series":"8.0 ps","seg":"R","wl":630,"dA":0.0015},{"series":"8.0 ps","seg":"R","wl":634.5,"dA":0.0027},{"series":"8.0 ps","seg":"R","wl":640,"dA":0.0035},{"series":"8.0 ps","seg":"R","wl":645,"dA":0.0042},{"series":"8.0 ps","seg":"R","wl":650,"dA":0.005},{"series":"8.0 ps","seg":"R","wl":653,"dA":0.0058},{"series":"8.0 ps","seg":"R","wl":658,"dA":0.0075},{"series":"8.0 ps","seg":"R","wl":662.7,"dA":0.0097},{"series":"8.0 ps","seg":"R","wl":667,"dA":0.0148},{"series":"8.0 ps","seg":"R","wl":672,"dA":0.019},{"series":"8.0 ps","seg":"R","wl":678,"dA":0.0239},{"series":"8.0 ps","seg":"R","wl":683,"dA":0.027},{"series":"8.0 ps","seg":"R","wl":689,"dA":0.0309},{"series":"8.0 ps","seg":"R","wl":695,"dA":0.0335},{"series":"8.0 ps","seg":"R","wl":700.6,"dA":0.036},{"series":"8.0 ps","seg":"R","wl":705,"dA":0.038},{"series":"8.0 ps","seg":"R","wl":709.6,"dA":0.04},{"series":"8.0 ps","seg":"R","wl":714,"dA":0.0418},{"series":"8.0 ps","seg":"R","wl":719,"dA":0.043},{"series":"8.0 ps","seg":"R","wl":724,"dA":0.0432},{"series":"8.0 ps","seg":"R","wl":729,"dA":0.043},{"series":"8.0 ps","seg":"R","wl":732,"dA":0.0418},{"series":"8.0 ps","seg":"R","wl":734.5,"dA":0.04},{"series":"8.0 ps","seg":"R","wl":738,"dA":0.0365},{"series":"8.0 ps","seg":"R","wl":742,"dA":0.033},{"series":"8.0 ps","seg":"R","wl":747,"dA":0.029},{"series":"8.0 ps","seg":"R","wl":751,"dA":0.0248},{"series":"8.0 ps","seg":"R","wl":757,"dA":0.021},{"series":"8.0 ps","seg":"R","wl":763,"dA":0.0179},{"series":"8.0 ps","seg":"R","wl":767,"dA":0.0155},{"series":"8.0 ps","seg":"R","wl":772,"dA":0.0133},{"series":"8.0 ps","seg":"R","wl":778,"dA":0.013},{"series":"8.0 ps","seg":"R","wl":789,"dA":0.0127},{"series":"8.0 ps","seg":"R","wl":795,"dA":0.0125},{"series":"8.0 ps","seg":"R","wl":800,"dA":0.012},{"series":"8.0 ps","seg":"R","wl":805,"dA":0.0116},{"series":"8.0 ps","seg":"R","wl":809,"dA":0.0112},
{"series":"18.5 ps","seg":"L","wl":430,"dA":-0.0003},{"series":"18.5 ps","seg":"L","wl":440,"dA":0},{"series":"18.5 ps","seg":"L","wl":470,"dA":0},{"series":"18.5 ps","seg":"L","wl":480,"dA":-0.0004},{"series":"18.5 ps","seg":"L","wl":487,"dA":-0.0012},{"series":"18.5 ps","seg":"L","wl":492,"dA":-0.0025},{"series":"18.5 ps","seg":"L","wl":497,"dA":-0.0042},{"series":"18.5 ps","seg":"L","wl":501,"dA":-0.0058},{"series":"18.5 ps","seg":"L","wl":506,"dA":-0.0073},{"series":"18.5 ps","seg":"L","wl":510,"dA":-0.0084},{"series":"18.5 ps","seg":"L","wl":514,"dA":-0.0091},{"series":"18.5 ps","seg":"L","wl":518,"dA":-0.0092},{"series":"18.5 ps","seg":"L","wl":522,"dA":-0.0091},{"series":"18.5 ps","seg":"L","wl":525,"dA":-0.0085},{"series":"18.5 ps","seg":"L","wl":528,"dA":-0.0079},{"series":"18.5 ps","seg":"L","wl":530,"dA":-0.009},{"series":"18.5 ps","seg":"L","wl":533,"dA":-0.0103},{"series":"18.5 ps","seg":"L","wl":537,"dA":-0.0132},{"series":"18.5 ps","seg":"L","wl":541,"dA":-0.0164},{"series":"18.5 ps","seg":"L","wl":545,"dA":-0.0195},{"series":"18.5 ps","seg":"L","wl":549,"dA":-0.0224},
{"series":"18.5 ps","seg":"R","wl":560,"dA":-0.023},{"series":"18.5 ps","seg":"R","wl":563,"dA":-0.0205},{"series":"18.5 ps","seg":"R","wl":566.7,"dA":-0.0176},{"series":"18.5 ps","seg":"R","wl":569,"dA":-0.0145},{"series":"18.5 ps","seg":"R","wl":572.3,"dA":-0.0115},{"series":"18.5 ps","seg":"R","wl":575,"dA":-0.009},{"series":"18.5 ps","seg":"R","wl":578,"dA":-0.0064},{"series":"18.5 ps","seg":"R","wl":582,"dA":-0.0043},{"series":"18.5 ps","seg":"R","wl":585.3,"dA":-0.0027},{"series":"18.5 ps","seg":"R","wl":590,"dA":-0.0012},{"series":"18.5 ps","seg":"R","wl":596.6,"dA":0},{"series":"18.5 ps","seg":"R","wl":604,"dA":0.0007},{"series":"18.5 ps","seg":"R","wl":612,"dA":0.0012},{"series":"18.5 ps","seg":"R","wl":616,"dA":0.0021},{"series":"18.5 ps","seg":"R","wl":625,"dA":0.003},{"series":"18.5 ps","seg":"R","wl":634.5,"dA":0.0036},{"series":"18.5 ps","seg":"R","wl":644,"dA":0.0048},{"series":"18.5 ps","seg":"R","wl":653,"dA":0.0067},{"series":"18.5 ps","seg":"R","wl":657,"dA":0.0067},{"series":"18.5 ps","seg":"R","wl":663,"dA":0.0082},{"series":"18.5 ps","seg":"R","wl":668,"dA":0.0097},{"series":"18.5 ps","seg":"R","wl":674,"dA":0.0112},{"series":"18.5 ps","seg":"R","wl":680,"dA":0.0127},{"series":"18.5 ps","seg":"R","wl":686,"dA":0.0148},{"series":"18.5 ps","seg":"R","wl":691,"dA":0.017},{"series":"18.5 ps","seg":"R","wl":697,"dA":0.0195},{"series":"18.5 ps","seg":"R","wl":702,"dA":0.0218},{"series":"18.5 ps","seg":"R","wl":707,"dA":0.0235},{"series":"18.5 ps","seg":"R","wl":712,"dA":0.0248},{"series":"18.5 ps","seg":"R","wl":716,"dA":0.0265},{"series":"18.5 ps","seg":"R","wl":721,"dA":0.0279},{"series":"18.5 ps","seg":"R","wl":726,"dA":0.028},{"series":"18.5 ps","seg":"R","wl":730.5,"dA":0.0276},{"series":"18.5 ps","seg":"R","wl":735,"dA":0.0255},{"series":"18.5 ps","seg":"R","wl":740,"dA":0.023},{"series":"18.5 ps","seg":"R","wl":746,"dA":0.02},{"series":"18.5 ps","seg":"R","wl":751,"dA":0.017},{"series":"18.5 ps","seg":"R","wl":757,"dA":0.0142},{"series":"18.5 ps","seg":"R","wl":763,"dA":0.0118},{"series":"18.5 ps","seg":"R","wl":767,"dA":0.01},{"series":"18.5 ps","seg":"R","wl":772,"dA":0.0082},{"series":"18.5 ps","seg":"R","wl":778,"dA":0.008},{"series":"18.5 ps","seg":"R","wl":789,"dA":0.0079},{"series":"18.5 ps","seg":"R","wl":798,"dA":0.0073},{"series":"18.5 ps","seg":"R","wl":809,"dA":0.0067},
{"series":"37.5 ps","seg":"L","wl":430,"dA":0},{"series":"37.5 ps","seg":"L","wl":490,"dA":0},{"series":"37.5 ps","seg":"L","wl":496,"dA":-0.0003},{"series":"37.5 ps","seg":"L","wl":501,"dA":-0.0014},{"series":"37.5 ps","seg":"L","wl":506,"dA":-0.0024},{"series":"37.5 ps","seg":"L","wl":510,"dA":-0.0034},{"series":"37.5 ps","seg":"L","wl":514,"dA":-0.0042},{"series":"37.5 ps","seg":"L","wl":518,"dA":-0.004},{"series":"37.5 ps","seg":"L","wl":522,"dA":-0.0033},{"series":"37.5 ps","seg":"L","wl":526,"dA":-0.0036},{"series":"37.5 ps","seg":"L","wl":529,"dA":-0.0042},{"series":"37.5 ps","seg":"L","wl":533,"dA":-0.005},{"series":"37.5 ps","seg":"L","wl":537,"dA":-0.0064},{"series":"37.5 ps","seg":"L","wl":540,"dA":-0.0078},{"series":"37.5 ps","seg":"L","wl":543,"dA":-0.0094},{"series":"37.5 ps","seg":"L","wl":546,"dA":-0.011},{"series":"37.5 ps","seg":"L","wl":549,"dA":-0.0124},
{"series":"37.5 ps","seg":"R","wl":560,"dA":-0.0139},{"series":"37.5 ps","seg":"R","wl":564,"dA":-0.011},{"series":"37.5 ps","seg":"R","wl":568.4,"dA":-0.0085},{"series":"37.5 ps","seg":"R","wl":572,"dA":-0.0058},{"series":"37.5 ps","seg":"R","wl":576.3,"dA":-0.0033},{"series":"37.5 ps","seg":"R","wl":580,"dA":-0.0018},{"series":"37.5 ps","seg":"R","wl":583.6,"dA":-0.0009},{"series":"37.5 ps","seg":"R","wl":590,"dA":0},{"series":"37.5 ps","seg":"R","wl":597,"dA":0.0006},{"series":"37.5 ps","seg":"R","wl":605,"dA":0.0012},{"series":"37.5 ps","seg":"R","wl":615,"dA":0.0018},{"series":"37.5 ps","seg":"R","wl":625,"dA":0.0021},{"series":"37.5 ps","seg":"R","wl":635,"dA":0.0021},{"series":"37.5 ps","seg":"R","wl":645,"dA":0.0028},{"series":"37.5 ps","seg":"R","wl":657,"dA":0.0036},{"series":"37.5 ps","seg":"R","wl":665,"dA":0.0047},{"series":"37.5 ps","seg":"R","wl":672,"dA":0.0058},{"series":"37.5 ps","seg":"R","wl":680,"dA":0.0072},{"series":"37.5 ps","seg":"R","wl":687,"dA":0.0088},{"series":"37.5 ps","seg":"R","wl":695,"dA":0.0103},{"series":"37.5 ps","seg":"R","wl":702,"dA":0.0118},{"series":"37.5 ps","seg":"R","wl":708,"dA":0.013},{"series":"37.5 ps","seg":"R","wl":714,"dA":0.0139},{"series":"37.5 ps","seg":"R","wl":719,"dA":0.0142},{"series":"37.5 ps","seg":"R","wl":725,"dA":0.0142},{"series":"37.5 ps","seg":"R","wl":730,"dA":0.0135},{"series":"37.5 ps","seg":"R","wl":735,"dA":0.0127},{"series":"37.5 ps","seg":"R","wl":740,"dA":0.0108},{"series":"37.5 ps","seg":"R","wl":746,"dA":0.0088},{"series":"37.5 ps","seg":"R","wl":752,"dA":0.0076},{"series":"37.5 ps","seg":"R","wl":759,"dA":0.0064},{"series":"37.5 ps","seg":"R","wl":766,"dA":0.0053},{"series":"37.5 ps","seg":"R","wl":774,"dA":0.0042},{"series":"37.5 ps","seg":"R","wl":781,"dA":0.0039},{"series":"37.5 ps","seg":"R","wl":789,"dA":0.0036},{"series":"37.5 ps","seg":"R","wl":798,"dA":0.0035},{"series":"37.5 ps","seg":"R","wl":809,"dA":0.0033},
{"series":"408 ps","seg":"L","wl":430,"dA":0.0003},{"series":"408 ps","seg":"L","wl":450,"dA":0.0003},{"series":"408 ps","seg":"L","wl":470,"dA":0},{"series":"408 ps","seg":"L","wl":477,"dA":0.0005},{"series":"408 ps","seg":"L","wl":479,"dA":0.0018},{"series":"408 ps","seg":"L","wl":490,"dA":0.0018},{"series":"408 ps","seg":"L","wl":500,"dA":0.0018},{"series":"408 ps","seg":"L","wl":506,"dA":0.0018},{"series":"408 ps","seg":"L","wl":509,"dA":0.0005},{"series":"408 ps","seg":"L","wl":512,"dA":0},{"series":"408 ps","seg":"L","wl":515,"dA":0.0005},{"series":"408 ps","seg":"L","wl":517,"dA":0.0018},{"series":"408 ps","seg":"L","wl":525,"dA":0.0018},{"series":"408 ps","seg":"L","wl":531,"dA":0.0018},{"series":"408 ps","seg":"L","wl":534,"dA":0.0008},{"series":"408 ps","seg":"L","wl":537,"dA":-0.0003},{"series":"408 ps","seg":"L","wl":540,"dA":-0.0014},{"series":"408 ps","seg":"L","wl":543,"dA":-0.0024},{"series":"408 ps","seg":"L","wl":546,"dA":-0.0032},{"series":"408 ps","seg":"L","wl":549,"dA":-0.0039},
{"series":"408 ps","seg":"R","wl":560,"dA":-0.0055},{"series":"408 ps","seg":"R","wl":564,"dA":-0.0045},{"series":"408 ps","seg":"R","wl":568.4,"dA":-0.0033},{"series":"408 ps","seg":"R","wl":572,"dA":-0.002},{"series":"408 ps","seg":"R","wl":576,"dA":-0.0009},{"series":"408 ps","seg":"R","wl":582,"dA":0.0006},{"series":"408 ps","seg":"R","wl":590,"dA":0.0008},{"series":"408 ps","seg":"R","wl":598,"dA":0.0005},{"series":"408 ps","seg":"R","wl":603,"dA":0.0013},{"series":"408 ps","seg":"R","wl":608,"dA":0.0004},{"series":"408 ps","seg":"R","wl":615,"dA":0.001},{"series":"408 ps","seg":"R","wl":620,"dA":0.0016},{"series":"408 ps","seg":"R","wl":625,"dA":0.0005},{"series":"408 ps","seg":"R","wl":632,"dA":0.001},{"series":"408 ps","seg":"R","wl":640,"dA":0.0014},{"series":"408 ps","seg":"R","wl":647,"dA":0.0004},{"series":"408 ps","seg":"R","wl":655,"dA":0.0012},{"series":"408 ps","seg":"R","wl":662,"dA":0.0006},{"series":"408 ps","seg":"R","wl":668,"dA":0.0015},{"series":"408 ps","seg":"R","wl":675,"dA":0.0004},{"series":"408 ps","seg":"R","wl":681,"dA":0.0012},{"series":"408 ps","seg":"R","wl":688,"dA":0.0016},{"series":"408 ps","seg":"R","wl":694,"dA":0.0008},{"series":"408 ps","seg":"R","wl":700,"dA":0.0013},{"series":"408 ps","seg":"R","wl":706,"dA":0.0004},{"series":"408 ps","seg":"R","wl":712,"dA":0.001},{"series":"408 ps","seg":"R","wl":720,"dA":0.0003},{"series":"408 ps","seg":"R","wl":730,"dA":0.0002},{"series":"408 ps","seg":"R","wl":740,"dA":0.0002},{"series":"408 ps","seg":"R","wl":750,"dA":0.0002},{"series":"408 ps","seg":"R","wl":760,"dA":0.0002},{"series":"408 ps","seg":"R","wl":765,"dA":0.001},{"series":"408 ps","seg":"R","wl":772,"dA":0.0008},{"series":"408 ps","seg":"R","wl":778,"dA":0.0012},{"series":"408 ps","seg":"R","wl":785,"dA":0.0006},{"series":"408 ps","seg":"R","wl":792,"dA":0.001},{"series":"408 ps","seg":"R","wl":798,"dA":0.0005},{"series":"408 ps","seg":"R","wl":804,"dA":0.0009},{"series":"408 ps","seg":"R","wl":809,"dA":0.0004}
],
"A_pts": [
{"t":0,"dA":0.0002},{"t":0.01,"dA":-0.0008},{"t":0.03,"dA":0.0405},{"t":0.04,"dA":0.0415},{"t":0.06,"dA":0.0395},{"t":0.08,"dA":0.0372},{"t":0.1,"dA":0.0358},{"t":0.12,"dA":0.0347},{"t":0.15,"dA":0.0336},{"t":0.2,"dA":0.0332},{"t":0.3,"dA":0.0337},{"t":0.4,"dA":0.0324},{"t":0.5,"dA":0.0318},{"t":0.6,"dA":0.0306},{"t":0.7,"dA":0.0303},{"t":0.8,"dA":0.029},{"t":0.9,"dA":0.0289},{"t":1.0,"dA":0.0273},{"t":1.1,"dA":0.0276},{"t":1.2,"dA":0.0262},{"t":1.3,"dA":0.0264},{"t":1.4,"dA":0.025},{"t":1.5,"dA":0.0247},{"t":1.6,"dA":0.024},{"t":1.7,"dA":0.0233},{"t":1.8,"dA":0.0229},{"t":1.9,"dA":0.0219},{"t":2.0,"dA":0.0216},{"t":2.1,"dA":0.021},{"t":2.2,"dA":0.0203},{"t":2.3,"dA":0.0201},{"t":2.4,"dA":0.0195},{"t":2.5,"dA":0.0191},{"t":2.6,"dA":0.0188},{"t":2.7,"dA":0.0186},{"t":2.8,"dA":0.0178},{"t":2.9,"dA":0.0178},{"t":3.0,"dA":0.0174},{"t":3.1,"dA":0.0166},{"t":3.2,"dA":0.0164},{"t":3.3,"dA":0.016},{"t":3.4,"dA":0.0153},{"t":3.5,"dA":0.0151},{"t":3.6,"dA":0.0145},{"t":3.7,"dA":0.0143},{"t":3.8,"dA":0.0139},{"t":3.9,"dA":0.0133},{"t":4.0,"dA":0.0133},{"t":4.1,"dA":0.0126},{"t":4.2,"dA":0.0124},{"t":4.3,"dA":0.012},{"t":4.4,"dA":0.0118},{"t":4.5,"dA":0.0112},{"t":4.6,"dA":0.0113},{"t":4.7,"dA":0.0107},{"t":4.8,"dA":0.0104},{"t":4.9,"dA":0.0102},{"t":5.0,"dA":0.0097},{"t":5.1,"dA":0.0096},{"t":5.2,"dA":0.0091},{"t":5.3,"dA":0.009},{"t":5.4,"dA":0.0086},{"t":5.45,"dA":0.0084},
{"t":0.05,"dA":0.0345},{"t":0.15,"dA":0.0325},{"t":0.25,"dA":0.034},{"t":0.35,"dA":0.0328},{"t":0.45,"dA":0.031},{"t":0.55,"dA":0.0315},{"t":0.65,"dA":0.0298},{"t":0.75,"dA":0.0297},{"t":0.85,"dA":0.0283},{"t":0.95,"dA":0.0282},{"t":1.05,"dA":0.0268},{"t":1.15,"dA":0.0265},{"t":1.25,"dA":0.0256},{"t":1.35,"dA":0.0255},{"t":1.45,"dA":0.0243},{"t":1.55,"dA":0.0242},{"t":1.65,"dA":0.0232},{"t":1.75,"dA":0.0226},{"t":1.85,"dA":0.0223},{"t":1.95,"dA":0.0212},{"t":2.05,"dA":0.021},{"t":2.15,"dA":0.0206},{"t":2.25,"dA":0.0198},{"t":2.35,"dA":0.0194},{"t":2.45,"dA":0.0192},{"t":2.55,"dA":0.0185},{"t":2.65,"dA":0.0184},{"t":2.75,"dA":0.018},{"t":2.85,"dA":0.0174},{"t":2.95,"dA":0.0172},{"t":3.05,"dA":0.0168},{"t":3.15,"dA":0.016},{"t":3.25,"dA":0.0161},{"t":3.35,"dA":0.0156},{"t":3.45,"dA":0.015},{"t":3.55,"dA":0.0147},{"t":3.65,"dA":0.0141},{"t":3.75,"dA":0.0141},{"t":3.85,"dA":0.0135},{"t":3.95,"dA":0.013},{"t":4.05,"dA":0.0128},{"t":4.15,"dA":0.0122},{"t":4.25,"dA":0.0121},{"t":4.35,"dA":0.0117},{"t":4.45,"dA":0.0114},{"t":4.55,"dA":0.0109},{"t":4.65,"dA":0.0108},{"t":4.75,"dA":0.0104},{"t":4.85,"dA":0.0101},{"t":4.95,"dA":0.0098},{"t":5.05,"dA":0.0094},{"t":5.15,"dA":0.0093},{"t":5.25,"dA":0.009},{"t":5.35,"dA":0.0087}
],
"A_circ": [{"t":0.05,"dA":0.0148}],
"A_fit": [
{"t":0,"dA":0},{"t":0.015,"dA":0.02},{"t":0.03,"dA":0.041},{"t":0.05,"dA":0.0405},{"t":0.08,"dA":0.037},{"t":0.12,"dA":0.035},{"t":0.2,"dA":0.0338},{"t":0.5,"dA":0.0316},{"t":1.0,"dA":0.0276},{"t":1.5,"dA":0.0244},{"t":2.0,"dA":0.0213},{"t":2.5,"dA":0.0191},{"t":3.0,"dA":0.017},{"t":3.5,"dA":0.015},{"t":4.0,"dA":0.0131},{"t":4.5,"dA":0.0114},{"t":5.0,"dA":0.0099},{"t":5.45,"dA":0.0087}
],
"B_pts": [
{"t":-0.5,"dA":0},{"t":0,"dA":0.0003},{"t":2.5,"dA":0.035},{"t":3,"dA":0.038},{"t":3.5,"dA":0.041},{"t":4,"dA":0.0435},{"t":4.5,"dA":0.0455},{"t":5,"dA":0.0435},{"t":5.5,"dA":0.046},{"t":6,"dA":0.0405},{"t":6.5,"dA":0.0448},{"t":7,"dA":0.0395},{"t":7.5,"dA":0.0425},{"t":8,"dA":0.0388},{"t":8.5,"dA":0.041},{"t":9.5,"dA":0.0395},{"t":10.5,"dA":0.038},{"t":11.5,"dA":0.0362},{"t":12.5,"dA":0.035},{"t":13.5,"dA":0.0336},{"t":14.5,"dA":0.0322},{"t":15.5,"dA":0.0312},{"t":16.5,"dA":0.03},{"t":17.5,"dA":0.0288},{"t":18.5,"dA":0.0282},{"t":19.5,"dA":0.0268},{"t":20.5,"dA":0.0258},{"t":21.5,"dA":0.0252},{"t":22.5,"dA":0.024},{"t":23.5,"dA":0.0232},{"t":24.5,"dA":0.0225},{"t":25.5,"dA":0.0215},{"t":26.5,"dA":0.0208},{"t":27.5,"dA":0.0198},{"t":28.5,"dA":0.0194},{"t":29.5,"dA":0.0184},{"t":31,"dA":0.0176},{"t":32.5,"dA":0.0168},{"t":34,"dA":0.0158},{"t":35.5,"dA":0.0152},{"t":37,"dA":0.0145},{"t":38.5,"dA":0.0138},{"t":40,"dA":0.0132},{"t":42,"dA":0.0124},{"t":44,"dA":0.0118},{"t":46,"dA":0.011},{"t":48,"dA":0.0106},{"t":50,"dA":0.01},{"t":52,"dA":0.0097},{"t":54,"dA":0.009},{"t":56,"dA":0.0088},{"t":58,"dA":0.0084},{"t":60,"dA":0.0082},{"t":62,"dA":0.0078},{"t":64,"dA":0.0079},{"t":66,"dA":0.0072},{"t":68,"dA":0.0074},{"t":70,"dA":0.007},{"t":72,"dA":0.0071},{"t":74,"dA":0.0066},{"t":76,"dA":0.0065},{"t":78,"dA":0.0063},{"t":80,"dA":0.0064},{"t":82,"dA":0.0059},{"t":84,"dA":0.006},{"t":86,"dA":0.0057},{"t":88,"dA":0.0058},{"t":90,"dA":0.0055},{"t":92,"dA":0.0057},{"t":94,"dA":0.0053},{"t":96,"dA":0.0054},{"t":98,"dA":0.005},{"t":100,"dA":0.0052},{"t":102,"dA":0.0049},{"t":104,"dA":0.0051},{"t":106,"dA":0.0046},{"t":108,"dA":0.0045},{"t":110,"dA":0.0042},{"t":112,"dA":0.0045},{"t":114,"dA":0.0043},{"t":116,"dA":0.0041},{"t":118,"dA":0.0042},{"t":120,"dA":0.0038},{"t":122,"dA":0.004},{"t":124,"dA":0.0036},{"t":126,"dA":0.0038},{"t":128,"dA":0.0035},{"t":130,"dA":0.0036},{"t":132,"dA":0.0032},{"t":134,"dA":0.0034},{"t":136,"dA":0.0031},{"t":138,"dA":0.0033},{"t":140,"dA":0.003},{"t":142,"dA":0.0029},{"t":144,"dA":0.0031},{"t":146,"dA":0.0027},{"t":148,"dA":0.003},{"t":150,"dA":0.0028},{"t":152,"dA":0.0026},{"t":154,"dA":0.0029},{"t":156,"dA":0.003},{"t":158,"dA":0.0027},{"t":160,"dA":0.0033},{"t":162,"dA":0.0036},{"t":164,"dA":0.0031},{"t":166,"dA":0.0027},{"t":168,"dA":0.0028},{"t":170,"dA":0.0025},{"t":172,"dA":0.0027},{"t":174,"dA":0.0023},{"t":176,"dA":0.0025},{"t":178,"dA":0.0022},{"t":180,"dA":0.0024},{"t":182,"dA":0.0021},{"t":184,"dA":0.0023},{"t":186,"dA":0.0015},{"t":188,"dA":0.0008},{"t":190,"dA":0.0019},{"t":192,"dA":0.0022},{"t":194,"dA":0.0018},{"t":196,"dA":0.0021},{"t":198,"dA":0.0019},{"t":200,"dA":0.002}
],
"B_circ": [{"t":0.8,"dA":0.0068},{"t":1.3,"dA":0.0215},{"t":1.8,"dA":0.0275}],
"B_fit": [
{"t":-0.5,"dA":0},{"t":0,"dA":0},{"t":1,"dA":0.012},{"t":2,"dA":0.03},{"t":3,"dA":0.04},{"t":4.5,"dA":0.0445},{"t":6,"dA":0.0448},{"t":7.5,"dA":0.043},{"t":9,"dA":0.04},{"t":11,"dA":0.0365},{"t":13,"dA":0.033},{"t":16,"dA":0.029},{"t":19,"dA":0.0255},{"t":22,"dA":0.0228},{"t":26,"dA":0.0198},{"t":30,"dA":0.0172},{"t":35,"dA":0.0145},{"t":40,"dA":0.0125},{"t":46,"dA":0.0107},{"t":53,"dA":0.0091},{"t":60,"dA":0.0081},{"t":70,"dA":0.007},{"t":80,"dA":0.0062},{"t":90,"dA":0.0056},{"t":100,"dA":0.0051},{"t":115,"dA":0.0044},{"t":130,"dA":0.0037},{"t":145,"dA":0.0032},{"t":160,"dA":0.0028},{"t":175,"dA":0.0024},{"t":190,"dA":0.0021},{"t":200,"dA":0.002}
]
},
"spacing": 18,
"resolve": {"scale": {"color": "independent", "x": "independent", "y": "independent"}, "legend": {"color": "independent"}},
"vconcat": [
{
 "title": {"text": "A", "dx": -136, "dy": 55},
 "width": 656, "height": 529,
 "resolve": {"scale": {"x": "independent", "y": "independent"}, "axis": {"x": "independent", "y": "independent"}},
 "layer": [
  {"layer": [
    {"data": {"name": "A_main"}, "mark": {"type": "line", "strokeWidth": 2},
     "encoding": {
      "x": {"field": "wl", "type": "quantitative", "scale": {"domain": [429, 554, 562, 809], "range": [0, 210, 223, 656], "nice": false, "zero": false},
            "axis": {"title": "Wavelength (nm)", "orient": "bottom", "values": [450, 500, 600, 650, 700, 750, 800], "labelExpr": "datum.value % 100 == 0 ? format(datum.value, 'd') : ''", "tickSize": {"condition": {"test": "datum.value % 100 != 0", "value": 7}, "value": 11}, "labelFontSize": 26, "labelPadding": 11, "titleFontSize": 27, "titlePadding": 14}},
      "y": {"field": "dA", "type": "quantitative", "scale": {"domain": [-0.095, 0.05], "nice": false, "zero": false},
            "axis": {"title": "ΔA", "orient": "left", "values": [-0.09, -0.08, -0.07, -0.06, -0.05, -0.04, -0.03, -0.02, -0.01, 0, 0.01, 0.02, 0.03, 0.04], "labelExpr": "round(datum.value*100) % 2 != 0 ? '' : (datum.value < -0.0001 ? '-' + format(-datum.value, '.2f') : format(abs(datum.value), '.2f'))", "tickSize": {"condition": {"test": "round(datum.value*100) % 2 != 0", "value": 5}, "value": 10}, "labelFontSize": 26, "labelPadding": 9, "titleFontSize": 28, "titlePadding": 16}},
      "color": {"field": "series", "type": "nominal", "scale": {"domain": ["0 ps", "0.7 ps", "6.2 ps", "978 ps", "2,330 ps", "4,980 ps"], "range": ["#000000", "#ff0000", "#ff8c1a", "#1f8a1f", "#0000ff", "#8f2cff"]},
                "legend": {"title": null, "orient": "none", "legendX": 2, "legendY": 284}},
      "detail": {"field": "seg", "type": "nominal"}
     }},
    {"data": {"values": [{}]}, "mark": {"type": "text", "text": "//", "font": "DejaVu Sans", "fontSize": 27, "baseline": "middle", "align": "center", "color": "black"},
     "encoding": {"x": {"datum": 558, "type": "quantitative"}, "y": {"datum": 0.05, "type": "quantitative"}}},
    {"data": {"values": [{}]}, "mark": {"type": "text", "text": "//", "font": "DejaVu Sans", "fontSize": 27, "baseline": "middle", "align": "center", "color": "black"},
     "encoding": {"x": {"datum": 558, "type": "quantitative"}, "y": {"datum": -0.095, "type": "quantitative"}}}
  ]},
  {"layer": [
    {"data": {"values": [{}]}, "mark": {"type": "rect", "fill": "white", "stroke": "#777777", "strokeWidth": 1.5},
     "encoding": {
      "x": {"datum": -0.03, "type": "quantitative", "scale": {"domain": [-0.03, 5.5], "range": [407, 642], "nice": false, "zero": false},
            "axis": {"title": "Time (ns)", "orient": "bottom", "offset": -74, "values": [0, 0.5, 1, 1.5, 2, 2.5, 3, 3.5, 4, 4.5, 5], "labelExpr": "datum.value % 1 == 0 ? format(datum.value, 'd') : ''", "tickSize": {"condition": {"test": "datum.value % 1 != 0", "value": 4}, "value": 7}, "domainColor": "#666666", "domainWidth": 2, "tickColor": "#333333", "tickWidth": 1.5, "labelFontSize": 19, "labelPadding": 3, "titleFontSize": 22, "titlePadding": 3}},
      "x2": {"datum": 5.5},
      "y": {"datum": -0.0045, "type": "quantitative", "scale": {"domain": [-0.0045, 0.045], "range": [455, 245], "nice": false, "zero": false},
            "axis": {"title": "ΔA", "orient": "left", "offset": -407, "values": [0, 0.005, 0.01, 0.015, 0.02, 0.025, 0.03, 0.035, 0.04], "labelExpr": "round(datum.value*1000) % 10 != 0 ? '' : format(datum.value, '.2f')", "tickSize": {"condition": {"test": "round(datum.value*1000) % 10 != 0", "value": 4}, "value": 7}, "domainColor": "#666666", "domainWidth": 2, "tickColor": "#333333", "tickWidth": 1.5, "labelFontSize": 19, "labelPadding": 2, "titleFontSize": 22, "titlePadding": 8}},
      "y2": {"datum": 0.045}
     }},
    {"data": {"values": [{}]}, "mark": {"type": "rule", "color": "#222222", "strokeWidth": 1.3},
     "encoding": {"x": {"datum": -0.03, "type": "quantitative"}, "x2": {"datum": 5.5}, "y": {"datum": 0, "type": "quantitative"}}},
    {"data": {"name": "A_pts"}, "mark": {"type": "point", "shape": "square", "filled": false, "color": "black", "size": 34, "strokeWidth": 1.4, "opacity": 1},
     "encoding": {"x": {"field": "t", "type": "quantitative"}, "y": {"field": "dA", "type": "quantitative"}}},
    {"data": {"name": "A_circ"}, "mark": {"type": "point", "shape": "circle", "filled": false, "color": "black", "size": 30, "strokeWidth": 1.3, "opacity": 1},
     "encoding": {"x": {"field": "t", "type": "quantitative"}, "y": {"field": "dA", "type": "quantitative"}}},
    {"data": {"name": "A_fit"}, "mark": {"type": "line", "color": "#ff0000", "strokeWidth": 2.2},
     "encoding": {"x": {"field": "t", "type": "quantitative"}, "y": {"field": "dA", "type": "quantitative"}}}
  ]}
 ]
},
{
 "title": {"text": "B", "dx": -143, "dy": 55},
 "width": 663, "height": 529,
 "view": {"stroke": null},
 "resolve": {"scale": {"x": "independent", "y": "independent"}, "axis": {"x": "independent", "y": "independent"}},
 "layer": [
  {"layer": [
    {"data": {"values": [{}]}, "mark": {"type": "rect", "filled": false, "stroke": "black", "strokeWidth": 2.5},
     "encoding": {"x": {"datum": 430, "type": "quantitative"}, "x2": {"datum": 809}, "y": {"datum": -0.11, "type": "quantitative"}, "y2": {"datum": 0.05}}},
    {"data": {"name": "B_main"}, "mark": {"type": "line", "strokeWidth": 2},
     "encoding": {
      "x": {"field": "wl", "type": "quantitative", "scale": {"domain": [430, 549.5, 560, 809], "range": [7, 213, 223, 663], "nice": false, "zero": false},
            "axis": {"title": "Wavelength (nm)", "orient": "bottom", "values": [450, 500, 600, 650, 700, 750, 800], "labelExpr": "datum.value % 100 == 0 ? format(datum.value, 'd') : ''", "tickSize": {"condition": {"test": "datum.value % 100 != 0", "value": 7}, "value": 11}, "labelFontSize": 26, "labelPadding": 11, "titleFontSize": 27, "titlePadding": 14}},
      "y": {"field": "dA", "type": "quantitative", "scale": {"domain": [-0.11, 0.05], "nice": false, "zero": false},
            "axis": {"title": "ΔA", "orient": "left", "offset": -7, "values": [-0.1, -0.09, -0.08, -0.07, -0.06, -0.05, -0.04, -0.03, -0.02, -0.01, 0, 0.01, 0.02, 0.03, 0.04], "labelExpr": "round(datum.value*100) % 2 != 0 ? '' : (datum.value < -0.0001 ? '-' + format(-datum.value, '.2f') : format(abs(datum.value), '.2f'))", "tickSize": {"condition": {"test": "round(datum.value*100) % 2 != 0", "value": 5}, "value": 10}, "labelFontSize": 26, "labelPadding": 9, "titleFontSize": 28, "titlePadding": 16}},
      "color": {"field": "series", "type": "nominal", "scale": {"domain": ["0 ps", "0.7 ps", "2.4 ps", "8.0 ps", "18.5 ps", "37.5 ps", "408 ps"], "range": ["#000000", "#ff0000", "#ff8c1a", "#8c8c1f", "#1f8a1f", "#0000ff", "#8f2cff"]},
                "legend": {"title": null, "orient": "none", "legendX": 14, "legendY": 252, "rowPadding": 12}},
      "detail": {"field": "seg", "type": "nominal"}
     }},
    {"data": {"values": [{}]}, "mark": {"type": "text", "text": "//", "font": "DejaVu Sans", "fontSize": 27, "baseline": "middle", "align": "center", "color": "black"},
     "encoding": {"x": {"datum": 555, "type": "quantitative"}, "y": {"datum": 0.05, "type": "quantitative"}}},
    {"data": {"values": [{}]}, "mark": {"type": "text", "text": "//", "font": "DejaVu Sans", "fontSize": 27, "baseline": "middle", "align": "center", "color": "black"},
     "encoding": {"x": {"datum": 555, "type": "quantitative"}, "y": {"datum": -0.11, "type": "quantitative"}}}
  ]},
  {"layer": [
    {"data": {"values": [{}]}, "mark": {"type": "rect", "fill": "white", "stroke": "#777777", "strokeWidth": 1.5},
     "encoding": {
      "x": {"datum": -10.4, "type": "quantitative", "scale": {"domain": [-10.4, 200], "range": [395, 638], "nice": false, "zero": false},
            "axis": {"title": "Time (ps)", "orient": "bottom", "offset": -70, "values": [0, 25, 50, 75, 100, 125, 150, 175, 200], "labelExpr": "datum.value % 50 == 0 ? format(datum.value, 'd') : ''", "tickSize": {"condition": {"test": "datum.value % 50 != 0", "value": 4}, "value": 7}, "domainColor": "#666666", "domainWidth": 2, "tickColor": "#333333", "tickWidth": 1.5, "labelFontSize": 19, "labelPadding": 3, "titleFontSize": 22, "titlePadding": 3}},
      "x2": {"datum": 200},
      "y": {"datum": -0.005, "type": "quantitative", "scale": {"domain": [-0.005, 0.05], "range": [459, 249], "nice": false, "zero": false},
            "axis": {"title": "ΔA", "orient": "left", "offset": -395, "values": [0, 0.005, 0.01, 0.015, 0.02, 0.025, 0.03, 0.035, 0.04, 0.045, 0.05], "labelExpr": "round(datum.value*1000) % 10 != 0 ? '' : format(datum.value, '.2f')", "tickSize": {"condition": {"test": "round(datum.value*1000) % 10 != 0", "value": 4}, "value": 7}, "domainColor": "#666666", "domainWidth": 2, "tickColor": "#333333", "tickWidth": 1.5, "labelFontSize": 19, "labelPadding": 2, "titleFontSize": 22, "titlePadding": 8}},
      "y2": {"datum": 0.05}
     }},
    {"data": {"values": [{}]}, "mark": {"type": "rule", "color": "#222222", "strokeWidth": 1.3},
     "encoding": {"x": {"datum": -10.4, "type": "quantitative"}, "x2": {"datum": 200}, "y": {"datum": 0, "type": "quantitative"}}},
    {"data": {"name": "B_pts"}, "mark": {"type": "point", "shape": "square", "filled": false, "color": "black", "size": 34, "strokeWidth": 1.4, "opacity": 1},
     "encoding": {"x": {"field": "t", "type": "quantitative"}, "y": {"field": "dA", "type": "quantitative"}}},
    {"data": {"name": "B_circ"}, "mark": {"type": "point", "shape": "circle", "filled": false, "color": "black", "size": 30, "strokeWidth": 1.3, "opacity": 1},
     "encoding": {"x": {"field": "t", "type": "quantitative"}, "y": {"field": "dA", "type": "quantitative"}}},
    {"data": {"name": "B_fit"}, "mark": {"type": "line", "color": "#ff0000", "strokeWidth": 2.2},
     "encoding": {"x": {"field": "t", "type": "quantitative"}, "y": {"field": "dA", "type": "quantitative"}}}
  ]}
 ]
}
]
}
